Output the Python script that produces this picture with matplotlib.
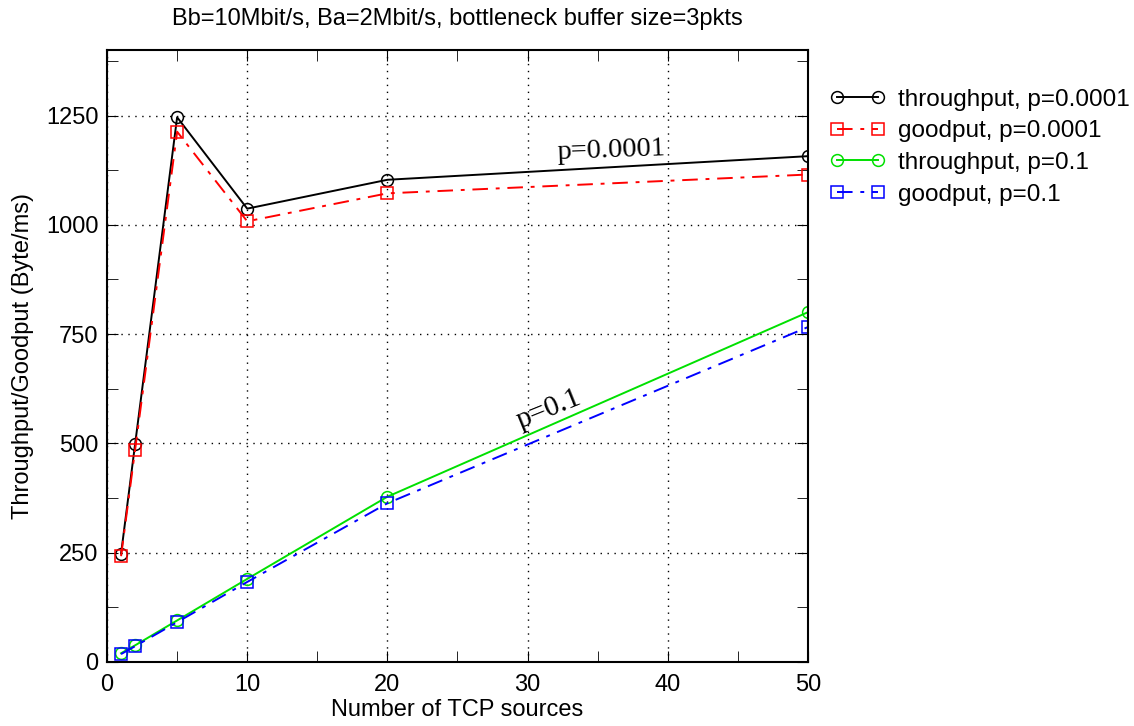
import matplotlib
matplotlib.use('Agg')
import matplotlib.pyplot as plt
from matplotlib.ticker import MultipleLocator

# number of TCP sources
sources = [1, 2, 5, 10, 20, 50]

thr_p0001 = [248, 498, 1246, 1037, 1103, 1157]
good_p0001 = [242, 485, 1213, 1008, 1072, 1115]
thr_p01 = [20, 38, 95, 190, 378, 800]
good_p01 = [18, 36, 91, 183, 363, 766]

plt.rcParams['font.family'] = ['Liberation Sans', 'DejaVu Sans']

fig = plt.figure(figsize=(11.34, 7.26), dpi=100)
ax = fig.add_axes([0.0944, 0.0882, 0.618, 0.843])

ax.plot(sources, thr_p0001, color='black', lw=1.4, marker='o', ms=8.5, mfc='none', mew=1.1,
        label='throughput, p=0.0001')
ax.plot(sources, good_p0001, color='red', lw=1.4, ls=(0, (8, 4, 2, 4)), marker='s', ms=8.5,
        mfc='none', mew=1.1, label='goodput, p=0.0001')
ax.plot(sources, thr_p01, color='#00e000', lw=1.4, marker='o', ms=8.5, mfc='none', mew=1.1,
        label='throughput, p=0.1')
ax.plot(sources, good_p01, color='blue', lw=1.4, ls=(0, (8, 4, 2, 4)), marker='s', ms=8.5,
        mfc='none', mew=1.1, label='goodput, p=0.1')

ax.set_xlim(0, 50)
ax.set_ylim(0, 1400)
ax.xaxis.set_major_locator(MultipleLocator(10))
ax.xaxis.set_minor_locator(MultipleLocator(5))
ax.yaxis.set_major_locator(MultipleLocator(250))
ax.yaxis.set_minor_locator(MultipleLocator(125))
ax.tick_params(which='both', direction='in', top=True, right=True, labelsize=17, pad=6)
ax.tick_params(axis='x', which='both', pad=9)
ax.tick_params(which='major', length=8)
ax.tick_params(which='minor', length=8)
ax.grid(True, which='major', color='black', ls=(0, (1, 4)), lw=1)
for s in ax.spines.values():
    s.set_linewidth(1.5)

ax.set_xlabel('Number of TCP sources', fontsize=17, labelpad=2)
ax.set_ylabel('Throughput/Goodput (Byte/ms)', fontsize=17, labelpad=9)
ax.set_title('Bb=10Mbit/s, Ba=2Mbit/s, bottleneck buffer size=3pkts', fontsize=17, pad=18)

ax.text(36.0, 1136, 'p=0.0001', fontsize=20.5, family='Liberation Serif', ha='center',
        va='bottom', rotation=2)
ax.text(31.5, 578, 'p=0.1', fontsize=21, family='Liberation Serif', ha='center', va='center',
        rotation=22)

ax.legend(loc='upper left', bbox_to_anchor=(1.031, 0.937), frameon=False, fontsize=17.5,
          numpoints=2, handlelength=2.3, handletextpad=0.5, labelspacing=0.4,
          borderpad=0, borderaxespad=0)

fig.savefig('out.png', dpi=100)
